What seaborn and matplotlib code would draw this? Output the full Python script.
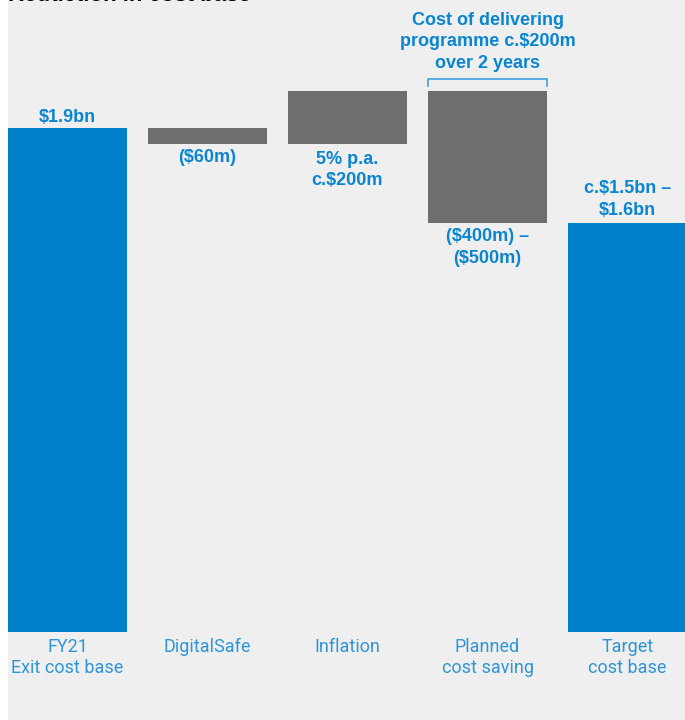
import matplotlib
matplotlib.use("Agg")
import matplotlib.pyplot as plt
from matplotlib.patches import Rectangle
import seaborn as sns
import pandas as pd

# Waterfall steps, $m
categories = ["FY21\nExit cost base", "DigitalSafe", "Inflation",
              "Planned\ncost saving", "Target\ncost base"]
step_values = [1900, -60, 200, -500]
value_labels = ["$1.9bn", "($60m)", "5% p.a.\nc.$200m",
                "($400m) –\n($500m)", "c.$1.5bn –\n$1.6bn"]
bracket_note = "Cost of delivering\nprogramme c.$200m\nover 2 years"
title = "Reduction in cost base"

BLUE = "#0081C9"
GREY = "#6E6E6E"
BG = "#EFEFEF"
LABEL_BLUE = "#0A85CF"
TICK_BLUE = "#2E95D6"

# running totals -> bottoms and tops of each bar
bottoms, tops = [], []
running = 0
for v in step_values:
    lo, hi = sorted([running, running + v])
    if running == 0:
        lo, hi = 0, v
    bottoms.append(lo)
    tops.append(hi)
    running += v
bottoms.append(0)
tops.append(running)
kinds = ["total", "step", "step", "step", "total"]

df = pd.DataFrame({"category": categories, "top": tops,
                   "bottom": bottoms, "kind": kinds})

W, H = 685, 720
fig = plt.figure(figsize=(W / 100, H / 100), dpi=100)
fig.patch.set_facecolor("white")
fig.patches.append(Rectangle((8 / W, 0), 1, 1, transform=fig.transFigure,
                             facecolor=BG, edgecolor="none", zorder=-5))

ax = fig.add_axes([8 / W, 88 / H, 677 / W, 632 / H])
ax.set_facecolor(BG)

sns.barplot(data=df, x="category", y="top", hue="category",
            palette=[BLUE if k == "total" else GREY for k in kinds],
            width=0.85, legend=False, ax=ax, saturation=1)

bars = sorted(ax.patches, key=lambda p: p.get_x())
for p, b, t in zip(bars, bottoms, tops):
    p.set_y(b)
    p.set_height(t - b)

px_per_m = 504 / 1900
ax.set_xlim(-0.425, -0.425 + 677 / 140)
ax.set_ylim(0, 632 / px_per_m)
for s in ax.spines.values():
    s.set_visible(False)
ax.set_ylabel("")
ax.set_xlabel("")
ax.set_yticks([])
ax.tick_params(axis="x", length=0, pad=4.5)
ax.set_xticks(range(len(categories)))
ax.set_xticklabels(categories, fontsize=13, color=TICK_BLUE,
                   family="Roboto", fontweight="normal", linespacing=1.22)

bold = dict(family="Liberation Sans", fontweight="bold", fontsize=13,
            color=LABEL_BLUE, ha="center", va="center", linespacing=1.32)

# value labels: above for totals, below for steps
offsets = [(tops[0], 10), (bottoms[1], -14), (bottoms[2], -26),
           (bottoms[3], -24), (tops[4], 24)]
for i, (lab, (yv, off)) in enumerate(zip(value_labels, offsets)):
    ax.annotate(lab, xy=(i, yv), xytext=(0, off),
                textcoords="offset pixels", **bold)

# bracket over planned saving bar
x0 = 3 - 0.425
x1 = 3 + 0.425
yb = (632 - 79) / px_per_m
ytick = (632 - 86) / px_per_m
ax.plot([x0, x0, x1, x1], [ytick, yb, yb, ytick], color="#4AA8E0",
        lw=1.3, solid_joinstyle="miter", clip_on=False)
ax.annotate(bracket_note, xy=(3, yb), xytext=(0, 79 - 42),
            textcoords="offset pixels", **bold)

fig.text(8 / W, 1 - 1 / H, title, family="Liberation Sans",
         fontweight="bold", fontsize=16, color="black",
         ha="left", va="baseline")

fig.savefig("out.png", dpi=100, facecolor=fig.get_facecolor())
